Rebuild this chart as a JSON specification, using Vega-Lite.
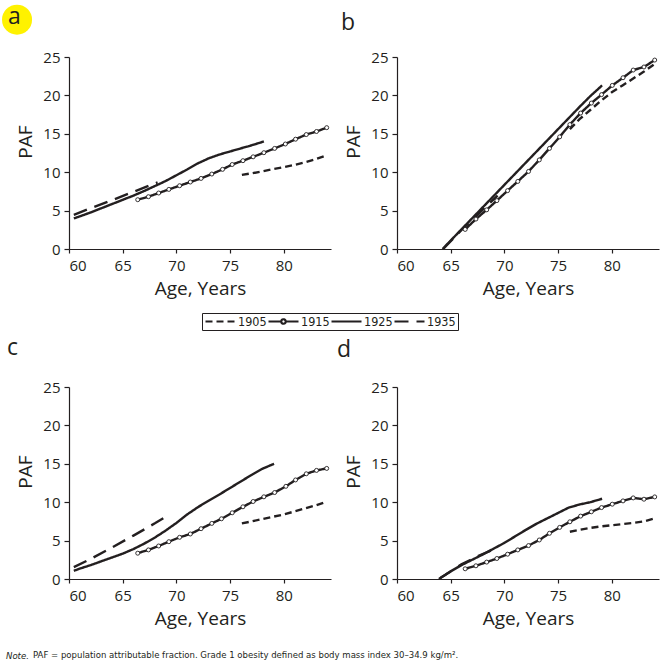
{
  "$schema": "https://vega.github.io/schema/vega-lite/v6.json",
  "background": "white",
  "padding": {"left": 2, "top": 4, "right": 0, "bottom": 4},
  "config": {
    "font": "Open Sans",
    "view": {"stroke": null},
    "axis": {"grid": false, "labelOverlap": false, "domainColor": "#231f20", "domainWidth": 1.2, "tickColor": "#231f20", "tickWidth": 1.2, "tickSize": 5, "labelColor": "#231f20", "labelFont": "Open Sans", "labelFontSize": 15, "labelPadding": 4, "titleColor": "#231f20", "titleFont": "Open Sans", "titleFontSize": 19, "titleFontWeight": "normal"},
    "axisX": {"tickSize": 4, "labelPadding": 5, "titlePadding": 6},
    "axisY": {"titlePadding": 7, "titleY": 84.5},
    "title": {"font": "Open Sans", "fontSize": 23, "fontWeight": "normal", "color": "#231f20", "anchor": "start", "frame": "group", "baseline": "alphabetic", "offset": 15}
  },
  "data": {"values": [
    {"panel":"a","cohort":"1905","age":76.1,"paf":9.65},{"panel":"a","cohort":"1905","age":77,"paf":9.85},{"panel":"a","cohort":"1905","age":78,"paf":10.1},{"panel":"a","cohort":"1905","age":79,"paf":10.4},{"panel":"a","cohort":"1905","age":80,"paf":10.65},{"panel":"a","cohort":"1905","age":81,"paf":10.95},{"panel":"a","cohort":"1905","age":82,"paf":11.3},{"panel":"a","cohort":"1905","age":83,"paf":11.7},{"panel":"a","cohort":"1905","age":84,"paf":12.2},
    {"panel":"a","cohort":"1915","age":66.4,"paf":6.42},{"panel":"a","cohort":"1915","age":67.4,"paf":6.81},{"panel":"a","cohort":"1915","age":68.35,"paf":7.29},{"panel":"a","cohort":"1915","age":69.3,"paf":7.76},{"panel":"a","cohort":"1915","age":70.3,"paf":8.24},{"panel":"a","cohort":"1915","age":71.3,"paf":8.72},{"panel":"a","cohort":"1915","age":72.3,"paf":9.19},{"panel":"a","cohort":"1915","age":73.3,"paf":9.76},{"panel":"a","cohort":"1915","age":74.3,"paf":10.37},{"panel":"a","cohort":"1915","age":75.2,"paf":11.0},{"panel":"a","cohort":"1915","age":76.2,"paf":11.5},{"panel":"a","cohort":"1915","age":77.15,"paf":12.0},{"panel":"a","cohort":"1915","age":78.15,"paf":12.54},{"panel":"a","cohort":"1915","age":79.15,"paf":13.1},{"panel":"a","cohort":"1915","age":80.15,"paf":13.67},{"panel":"a","cohort":"1915","age":81.1,"paf":14.3},{"panel":"a","cohort":"1915","age":82.1,"paf":14.9},{"panel":"a","cohort":"1915","age":83.05,"paf":15.3},{"panel":"a","cohort":"1915","age":84.0,"paf":15.8},
    {"panel":"a","cohort":"1925","age":60.45,"paf":3.98},{"panel":"a","cohort":"1925","age":61,"paf":4.25},{"panel":"a","cohort":"1925","age":62,"paf":4.75},{"panel":"a","cohort":"1925","age":63,"paf":5.3},{"panel":"a","cohort":"1925","age":64,"paf":5.85},{"panel":"a","cohort":"1925","age":65,"paf":6.4},{"panel":"a","cohort":"1925","age":66,"paf":6.95},{"panel":"a","cohort":"1925","age":67,"paf":7.55},{"panel":"a","cohort":"1925","age":68,"paf":8.2},{"panel":"a","cohort":"1925","age":69,"paf":8.85},{"panel":"a","cohort":"1925","age":70,"paf":9.6},{"panel":"a","cohort":"1925","age":71,"paf":10.35},{"panel":"a","cohort":"1925","age":72,"paf":11.15},{"panel":"a","cohort":"1925","age":73,"paf":11.8},{"panel":"a","cohort":"1925","age":74,"paf":12.3},{"panel":"a","cohort":"1925","age":75,"paf":12.7},{"panel":"a","cohort":"1925","age":76,"paf":13.1},{"panel":"a","cohort":"1925","age":77,"paf":13.5},{"panel":"a","cohort":"1925","age":78.15,"paf":14.0},
    {"panel":"a","cohort":"1935","age":60.45,"paf":4.45},{"panel":"a","cohort":"1935","age":62,"paf":5.3},{"panel":"a","cohort":"1935","age":64,"paf":6.35},{"panel":"a","cohort":"1935","age":66,"paf":7.45},{"panel":"a","cohort":"1935","age":68.25,"paf":8.67},
    {"panel":"b","cohort":"1905","age":76.1,"paf":15.6},{"panel":"b","cohort":"1905","age":77,"paf":16.9},{"panel":"b","cohort":"1905","age":78,"paf":18.1},{"panel":"b","cohort":"1905","age":79,"paf":19.3},{"panel":"b","cohort":"1905","age":80,"paf":20.4},{"panel":"b","cohort":"1905","age":81,"paf":21.3},{"panel":"b","cohort":"1905","age":82,"paf":22.2},{"panel":"b","cohort":"1905","age":83,"paf":23.1},{"panel":"b","cohort":"1905","age":84,"paf":24.1},
    {"panel":"b","cohort":"1915","age":66.35,"paf":2.55},{"panel":"b","cohort":"1915","age":67.35,"paf":3.9},{"panel":"b","cohort":"1915","age":68.35,"paf":5.1},{"panel":"b","cohort":"1915","age":69.3,"paf":6.3},{"panel":"b","cohort":"1915","age":70.3,"paf":7.6},{"panel":"b","cohort":"1915","age":71.25,"paf":8.8},{"panel":"b","cohort":"1915","age":72.25,"paf":10.1},{"panel":"b","cohort":"1915","age":73.25,"paf":11.6},{"panel":"b","cohort":"1915","age":74.2,"paf":13.1},{"panel":"b","cohort":"1915","age":75.15,"paf":14.6},{"panel":"b","cohort":"1915","age":76.1,"paf":16.2},{"panel":"b","cohort":"1915","age":77.1,"paf":17.7},{"panel":"b","cohort":"1915","age":78.1,"paf":19.0},{"panel":"b","cohort":"1915","age":79.05,"paf":20.1},{"panel":"b","cohort":"1915","age":80.05,"paf":21.3},{"panel":"b","cohort":"1915","age":81.05,"paf":22.3},{"panel":"b","cohort":"1915","age":82.0,"paf":23.3},{"panel":"b","cohort":"1915","age":83.0,"paf":23.7},{"panel":"b","cohort":"1915","age":84.0,"paf":24.6},
    {"panel":"b","cohort":"1925","age":64.25,"paf":0},{"panel":"b","cohort":"1925","age":65,"paf":1.1},{"panel":"b","cohort":"1925","age":66,"paf":2.55},{"panel":"b","cohort":"1925","age":67,"paf":4.0},{"panel":"b","cohort":"1925","age":68,"paf":5.45},{"panel":"b","cohort":"1925","age":69,"paf":6.9},{"panel":"b","cohort":"1925","age":70,"paf":8.35},{"panel":"b","cohort":"1925","age":71,"paf":9.8},{"panel":"b","cohort":"1925","age":72,"paf":11.25},{"panel":"b","cohort":"1925","age":73,"paf":12.7},{"panel":"b","cohort":"1925","age":74,"paf":14.15},{"panel":"b","cohort":"1925","age":75,"paf":15.6},{"panel":"b","cohort":"1925","age":76,"paf":17.05},{"panel":"b","cohort":"1925","age":77,"paf":18.5},{"panel":"b","cohort":"1925","age":78,"paf":19.9},{"panel":"b","cohort":"1925","age":79.1,"paf":21.3},
    {"panel":"b","cohort":"1935","age":64.3,"paf":0},{"panel":"b","cohort":"1935","age":66.1,"paf":2.6},{"panel":"b","cohort":"1935","age":69.37,"paf":6.94},
    {"panel":"c","cohort":"1905","age":76.1,"paf":7.24},{"panel":"c","cohort":"1905","age":77,"paf":7.5},{"panel":"c","cohort":"1905","age":78,"paf":7.8},{"panel":"c","cohort":"1905","age":79,"paf":8.1},{"panel":"c","cohort":"1905","age":80,"paf":8.4},{"panel":"c","cohort":"1905","age":81,"paf":8.8},{"panel":"c","cohort":"1905","age":82,"paf":9.2},{"panel":"c","cohort":"1905","age":83,"paf":9.6},{"panel":"c","cohort":"1905","age":83.95,"paf":10.05},
    {"panel":"c","cohort":"1915","age":66.4,"paf":3.36},{"panel":"c","cohort":"1915","age":67.4,"paf":3.79},{"panel":"c","cohort":"1915","age":68.35,"paf":4.3},{"panel":"c","cohort":"1915","age":69.3,"paf":4.86},{"panel":"c","cohort":"1915","age":70.3,"paf":5.43},{"panel":"c","cohort":"1915","age":71.3,"paf":5.86},{"panel":"c","cohort":"1915","age":72.3,"paf":6.55},{"panel":"c","cohort":"1915","age":73.3,"paf":7.24},{"panel":"c","cohort":"1915","age":74.2,"paf":7.84},{"panel":"c","cohort":"1915","age":75.2,"paf":8.62},{"panel":"c","cohort":"1915","age":76.2,"paf":9.4},{"panel":"c","cohort":"1915","age":77.15,"paf":10.09},{"panel":"c","cohort":"1915","age":78.15,"paf":10.7},{"panel":"c","cohort":"1915","age":79.15,"paf":11.26},{"panel":"c","cohort":"1915","age":80.2,"paf":12.07},{"panel":"c","cohort":"1915","age":81.1,"paf":12.9},{"panel":"c","cohort":"1915","age":82.1,"paf":13.7},{"panel":"c","cohort":"1915","age":83.05,"paf":14.14},{"panel":"c","cohort":"1915","age":84.0,"paf":14.4},
    {"panel":"c","cohort":"1925","age":60.45,"paf":1.07},{"panel":"c","cohort":"1925","age":61,"paf":1.35},{"panel":"c","cohort":"1925","age":62,"paf":1.8},{"panel":"c","cohort":"1925","age":63,"paf":2.3},{"panel":"c","cohort":"1925","age":64,"paf":2.8},{"panel":"c","cohort":"1925","age":65,"paf":3.3},{"panel":"c","cohort":"1925","age":66,"paf":3.9},{"panel":"c","cohort":"1925","age":67,"paf":4.6},{"panel":"c","cohort":"1925","age":68,"paf":5.4},{"panel":"c","cohort":"1925","age":69,"paf":6.3},{"panel":"c","cohort":"1925","age":70,"paf":7.3},{"panel":"c","cohort":"1925","age":71,"paf":8.4},{"panel":"c","cohort":"1925","age":72,"paf":9.35},{"panel":"c","cohort":"1925","age":73,"paf":10.2},{"panel":"c","cohort":"1925","age":74,"paf":11.0},{"panel":"c","cohort":"1925","age":75,"paf":11.85},{"panel":"c","cohort":"1925","age":76,"paf":12.7},{"panel":"c","cohort":"1925","age":77,"paf":13.55},{"panel":"c","cohort":"1925","age":78,"paf":14.35},{"panel":"c","cohort":"1925","age":79.1,"paf":15.0},
    {"panel":"c","cohort":"1935","age":60.45,"paf":1.55},{"panel":"c","cohort":"1935","age":62,"paf":2.6},{"panel":"c","cohort":"1935","age":64,"paf":4.1},{"panel":"c","cohort":"1935","age":66,"paf":5.65},{"panel":"c","cohort":"1935","age":68,"paf":7.25},{"panel":"c","cohort":"1935","age":69.4,"paf":8.45},
    {"panel":"d","cohort":"1905","age":76.1,"paf":6.15},{"panel":"d","cohort":"1905","age":77,"paf":6.4},{"panel":"d","cohort":"1905","age":78,"paf":6.65},{"panel":"d","cohort":"1905","age":79,"paf":6.85},{"panel":"d","cohort":"1905","age":80,"paf":7.0},{"panel":"d","cohort":"1905","age":81,"paf":7.15},{"panel":"d","cohort":"1905","age":82,"paf":7.3},{"panel":"d","cohort":"1905","age":83,"paf":7.5},{"panel":"d","cohort":"1905","age":84,"paf":7.9},
    {"panel":"d","cohort":"1915","age":66.35,"paf":1.33},{"panel":"d","cohort":"1915","age":67.35,"paf":1.72},{"panel":"d","cohort":"1915","age":68.35,"paf":2.2},{"panel":"d","cohort":"1915","age":69.3,"paf":2.67},{"panel":"d","cohort":"1915","age":70.3,"paf":3.23},{"panel":"d","cohort":"1915","age":71.25,"paf":3.79},{"panel":"d","cohort":"1915","age":72.25,"paf":4.35},{"panel":"d","cohort":"1915","age":73.25,"paf":5.08},{"panel":"d","cohort":"1915","age":74.2,"paf":5.95},{"panel":"d","cohort":"1915","age":75.15,"paf":6.72},{"panel":"d","cohort":"1915","age":76.1,"paf":7.45},{"panel":"d","cohort":"1915","age":77.1,"paf":8.19},{"panel":"d","cohort":"1915","age":78.1,"paf":8.75},{"panel":"d","cohort":"1915","age":79.05,"paf":9.3},{"panel":"d","cohort":"1915","age":80.05,"paf":9.74},{"panel":"d","cohort":"1915","age":81.05,"paf":10.17},{"panel":"d","cohort":"1915","age":82.0,"paf":10.56},{"panel":"d","cohort":"1915","age":83.0,"paf":10.39},{"panel":"d","cohort":"1915","age":84.0,"paf":10.69},
    {"panel":"d","cohort":"1925","age":63.9,"paf":0},{"panel":"d","cohort":"1925","age":65,"paf":1.0},{"panel":"d","cohort":"1925","age":66,"paf":1.8},{"panel":"d","cohort":"1925","age":67,"paf":2.5},{"panel":"d","cohort":"1925","age":68,"paf":3.2},{"panel":"d","cohort":"1925","age":69,"paf":3.95},{"panel":"d","cohort":"1925","age":70,"paf":4.7},{"panel":"d","cohort":"1925","age":71,"paf":5.55},{"panel":"d","cohort":"1925","age":72,"paf":6.4},{"panel":"d","cohort":"1925","age":73,"paf":7.2},{"panel":"d","cohort":"1925","age":74,"paf":7.9},{"panel":"d","cohort":"1925","age":75,"paf":8.6},{"panel":"d","cohort":"1925","age":76,"paf":9.3},{"panel":"d","cohort":"1925","age":77,"paf":9.7},{"panel":"d","cohort":"1925","age":78,"paf":10.0},{"panel":"d","cohort":"1925","age":79.1,"paf":10.45},
    {"panel":"d","cohort":"1935","age":64.0,"paf":0.1},{"panel":"d","cohort":"1935","age":66,"paf":1.9},{"panel":"d","cohort":"1935","age":67.5,"paf":2.95},{"panel":"d","cohort":"1935","age":69.4,"paf":4.1}
  ]},
  "title": {"text": "PAF = population attributable fraction. Grade 1 obesity defined as body mass index 30–34.9 kg/m².", "orient": "bottom", "anchor": "start", "frame": "group", "font": "Liberation Sans Narrow, DejaVu Sans Condensed, Roboto Condensed, Roboto", "fontSize": 9.5, "fontStyle": "normal", "fontWeight": "normal", "baseline": "alphabetic", "offset": 0, "dx": -36, "dy": -3},
  "vconcat": [
    {
      "title": {"text": "Note.", "orient": "bottom", "anchor": "start", "frame": "group", "font": "Liberation Sans Narrow, DejaVu Sans Condensed, Roboto Condensed, Roboto", "fontSize": 9.5, "fontStyle": "italic", "fontWeight": "normal", "baseline": "alphabetic", "offset": 31, "dx": -63},
      "columns": 2,
      "bounds": "flush",
      "spacing": {"row": 138, "column": 66},
      "concat": [
        {
          "width": 262, "height": 192,
          "title": {"text": "a", "dx": -61, "dy": 39},
          "transform": [{"filter": "datum.panel === 'a'"}],
          "layer": [
            {"data": {"values": [{}]}, "mark": {"type": "point", "filled": true, "color": "#fff200", "opacity": 1, "size": 900}, "encoding": {"x": {"datum": 55.16, "type": "quantitative", "axis": {"values": [60, 65, 70, 75, 80], "labelOverlap": false}}, "y": {"datum": 29.86, "type": "quantitative", "axis": {"values": [0, 5, 10, 15, 20, 25], "labelOverlap": false}}}},
            {"mark": {"type": "line", "strokeWidth": 2.4, "color": "#231f20"},
             "encoding": {
               "x": {"field": "age", "type": "quantitative", "title": "Age, Years", "scale": {"domain": [60, 84.4], "nice": false, "zero": false}, "axis": {"values": [60, 65, 70, 75, 80], "labelOverlap": false}},
               "y": {"field": "paf", "type": "quantitative", "title": "PAF", "scale": {"domain": [0, 25], "nice": false}, "axis": {"values": [0, 5, 10, 15, 20, 25], "labelOverlap": false}},
               "strokeDash": {"field": "cohort", "type": "nominal", "scale": {"domain": ["1905", "1915", "1925", "1935"], "range": [[7, 4], [1, 0], [1, 0], [14, 8]]},
                 "legend": {"title": null, "orient": "none", "legendX": 133, "legendY": 256, "direction": "horizontal", "symbolType": "stroke", "symbolSize": 900, "symbolStrokeWidth": 2.2, "symbolStrokeColor": "#231f20", "clipHeight": 13, "labelFont": "Liberation Sans Narrow, DejaVu Sans Condensed, Roboto Condensed, Roboto", "labelFontSize": 12.5, "labelColor": "#231f20", "labelOffset": 1, "columnPadding": 0, "padding": 2, "strokeColor": "#231f20", "cornerRadius": 0,
                   "encode": {"symbols": {"update": {"shape": {"signal": "datum.value == '1915' ? 'M-1,0H-0.16M0.16,0H1M-0.15,0A0.15,0.15,0,1,1,0.15,0A0.15,0.15,0,1,1,-0.15,0' : 'stroke'"}, "fill": {"signal": "datum.value == '1915' ? 'white' : 'transparent'"}, "stroke": {"value": "#231f20"}, "strokeWidth": {"value": 2.2}}}}}}
             }},
            {"transform": [{"filter": "datum.cohort === '1915'"}], "mark": {"type": "point", "filled": true, "fill": "white", "stroke": "#231f20", "strokeWidth": 0.9, "size": 16, "opacity": 1}, "encoding": {"x": {"field": "age", "type": "quantitative", "axis": {"values": [60, 65, 70, 75, 80], "labelOverlap": false}}, "y": {"field": "paf", "type": "quantitative", "axis": {"values": [0, 5, 10, 15, 20, 25], "labelOverlap": false}}}}
          ]
        },
        {
          "width": 262, "height": 192,
          "title": {"text": "b", "dx": -56},
          "transform": [{"filter": "datum.panel === 'b'"}],
          "layer": [
            {"mark": {"type": "line", "strokeWidth": 2.4, "color": "#231f20"},
             "encoding": {
               "x": {"field": "age", "type": "quantitative", "title": "Age, Years", "scale": {"domain": [60, 84.4], "nice": false, "zero": false}, "axis": {"values": [60, 65, 70, 75, 80], "labelOverlap": false}},
               "y": {"field": "paf", "type": "quantitative", "title": "PAF", "scale": {"domain": [0, 25], "nice": false}, "axis": {"values": [0, 5, 10, 15, 20, 25], "labelOverlap": false}},
               "strokeDash": {"field": "cohort", "type": "nominal", "scale": {"domain": ["1905", "1915", "1925", "1935"], "range": [[7, 4], [1, 0], [1, 0], [14, 8]]},
                 "legend": {"title": null, "orient": "none", "legendX": 133, "legendY": 256, "direction": "horizontal", "symbolType": "stroke", "symbolSize": 900, "symbolStrokeWidth": 2.2, "symbolStrokeColor": "#231f20", "clipHeight": 13, "labelFont": "Liberation Sans Narrow, DejaVu Sans Condensed, Roboto Condensed, Roboto", "labelFontSize": 12.5, "labelColor": "#231f20", "labelOffset": 1, "columnPadding": 0, "padding": 2, "strokeColor": "#231f20", "cornerRadius": 0,
                   "encode": {"symbols": {"update": {"shape": {"signal": "datum.value == '1915' ? 'M-1,0H-0.16M0.16,0H1M-0.15,0A0.15,0.15,0,1,1,0.15,0A0.15,0.15,0,1,1,-0.15,0' : 'stroke'"}, "fill": {"signal": "datum.value == '1915' ? 'white' : 'transparent'"}, "stroke": {"value": "#231f20"}, "strokeWidth": {"value": 2.2}}}}}}
             }},
            {"transform": [{"filter": "datum.cohort === '1915'"}], "mark": {"type": "point", "filled": true, "fill": "white", "stroke": "#231f20", "strokeWidth": 0.9, "size": 16, "opacity": 1}, "encoding": {"x": {"field": "age", "type": "quantitative", "axis": {"values": [60, 65, 70, 75, 80], "labelOverlap": false}}, "y": {"field": "paf", "type": "quantitative", "axis": {"values": [0, 5, 10, 15, 20, 25], "labelOverlap": false}}}}
          ]
        },
        {
          "width": 262, "height": 192,
          "title": {"text": "c", "dx": -62, "dy": -5},
          "transform": [{"filter": "datum.panel === 'c'"}],
          "layer": [
            {"mark": {"type": "line", "strokeWidth": 2.4, "color": "#231f20"},
             "encoding": {
               "x": {"field": "age", "type": "quantitative", "title": "Age, Years", "scale": {"domain": [60, 84.4], "nice": false, "zero": false}, "axis": {"values": [60, 65, 70, 75, 80], "labelOverlap": false}},
               "y": {"field": "paf", "type": "quantitative", "title": "PAF", "scale": {"domain": [0, 25], "nice": false}, "axis": {"values": [0, 5, 10, 15, 20, 25], "labelOverlap": false}},
               "strokeDash": {"field": "cohort", "type": "nominal", "scale": {"domain": ["1905", "1915", "1925", "1935"], "range": [[7, 4], [1, 0], [1, 0], [14, 8]]},
                 "legend": {"title": null, "orient": "none", "legendX": 133, "legendY": 256, "direction": "horizontal", "symbolType": "stroke", "symbolSize": 900, "symbolStrokeWidth": 2.2, "symbolStrokeColor": "#231f20", "clipHeight": 13, "labelFont": "Liberation Sans Narrow, DejaVu Sans Condensed, Roboto Condensed, Roboto", "labelFontSize": 12.5, "labelColor": "#231f20", "labelOffset": 1, "columnPadding": 0, "padding": 2, "strokeColor": "#231f20", "cornerRadius": 0,
                   "encode": {"symbols": {"update": {"shape": {"signal": "datum.value == '1915' ? 'M-1,0H-0.16M0.16,0H1M-0.15,0A0.15,0.15,0,1,1,0.15,0A0.15,0.15,0,1,1,-0.15,0' : 'stroke'"}, "fill": {"signal": "datum.value == '1915' ? 'white' : 'transparent'"}, "stroke": {"value": "#231f20"}, "strokeWidth": {"value": 2.2}}}}}}
             }},
            {"transform": [{"filter": "datum.cohort === '1915'"}], "mark": {"type": "point", "filled": true, "fill": "white", "stroke": "#231f20", "strokeWidth": 0.9, "size": 16, "opacity": 1}, "encoding": {"x": {"field": "age", "type": "quantitative", "axis": {"values": [60, 65, 70, 75, 80], "labelOverlap": false}}, "y": {"field": "paf", "type": "quantitative", "axis": {"values": [0, 5, 10, 15, 20, 25], "labelOverlap": false}}}}
          ]
        },
        {
          "width": 262, "height": 192,
          "title": {"text": "d", "dx": -60, "dy": -3},
          "transform": [{"filter": "datum.panel === 'd'"}],
          "layer": [
            {"mark": {"type": "line", "strokeWidth": 2.4, "color": "#231f20"},
             "encoding": {
               "x": {"field": "age", "type": "quantitative", "title": "Age, Years", "scale": {"domain": [60, 84.4], "nice": false, "zero": false}, "axis": {"values": [60, 65, 70, 75, 80], "labelOverlap": false}},
               "y": {"field": "paf", "type": "quantitative", "title": "PAF", "scale": {"domain": [0, 25], "nice": false}, "axis": {"values": [0, 5, 10, 15, 20, 25], "labelOverlap": false}},
               "strokeDash": {"field": "cohort", "type": "nominal", "scale": {"domain": ["1905", "1915", "1925", "1935"], "range": [[7, 4], [1, 0], [1, 0], [14, 8]]},
                 "legend": {"title": null, "orient": "none", "legendX": 133, "legendY": 256, "direction": "horizontal", "symbolType": "stroke", "symbolSize": 900, "symbolStrokeWidth": 2.2, "symbolStrokeColor": "#231f20", "clipHeight": 13, "labelFont": "Liberation Sans Narrow, DejaVu Sans Condensed, Roboto Condensed, Roboto", "labelFontSize": 12.5, "labelColor": "#231f20", "labelOffset": 1, "columnPadding": 0, "padding": 2, "strokeColor": "#231f20", "cornerRadius": 0,
                   "encode": {"symbols": {"update": {"shape": {"signal": "datum.value == '1915' ? 'M-1,0H-0.16M0.16,0H1M-0.15,0A0.15,0.15,0,1,1,0.15,0A0.15,0.15,0,1,1,-0.15,0' : 'stroke'"}, "fill": {"signal": "datum.value == '1915' ? 'white' : 'transparent'"}, "stroke": {"value": "#231f20"}, "strokeWidth": {"value": 2.2}}}}}}
             }},
            {"transform": [{"filter": "datum.cohort === '1915'"}], "mark": {"type": "point", "filled": true, "fill": "white", "stroke": "#231f20", "strokeWidth": 0.9, "size": 16, "opacity": 1}, "encoding": {"x": {"field": "age", "type": "quantitative", "axis": {"values": [60, 65, 70, 75, 80], "labelOverlap": false}}, "y": {"field": "paf", "type": "quantitative", "axis": {"values": [0, 5, 10, 15, 20, 25], "labelOverlap": false}}}}
          ]
        }
      ]
    }
  ]
}
